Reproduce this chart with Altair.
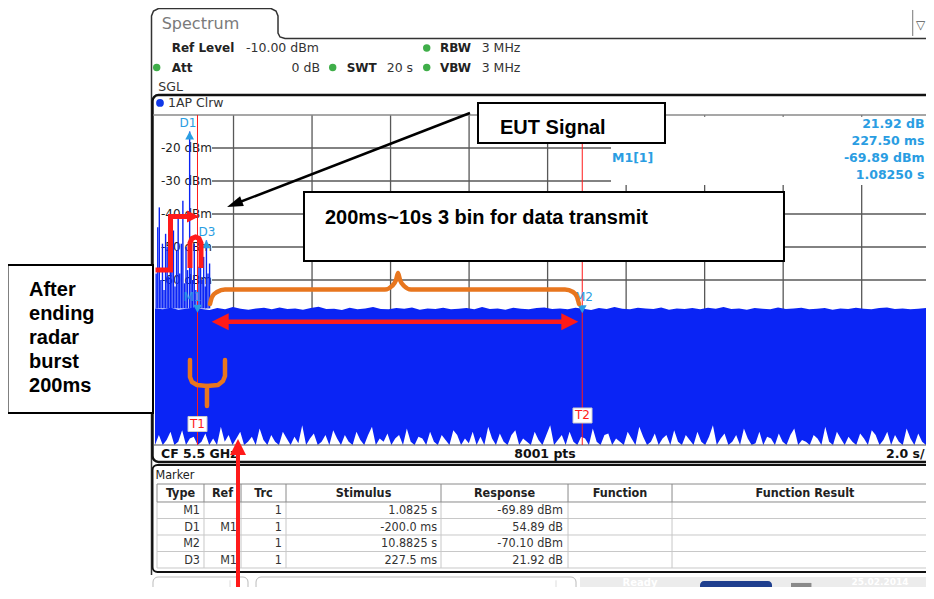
import altair as alt
import numpy as np
import pandas as pd

# ======================= values =======================
SWEEP_VISIBLE = 19.638         # s  (20 s sweep at 2.0 s/div, right edge cropped)
REF_LEVEL = -10.0              # dBm, top of grid
GRID_BOTTOM = -110.0           # dBm, bottom of grid

TIME_GRID = [2, 4, 6, 8, 10, 12, 14, 16, 18]
LEVEL_GRID = [-20, -30, -40, -50, -60, -70, -80, -90, -100]
# labels that are visible (the lower ones are hidden under the trace)
LEVEL_LABEL_LEVELS = [-20, -30, -40, -50, -60]
LEVEL_LABELS = ["-20 dBm", "-30 dBm", "-40 dBm", "-50 dBm", "-60 dBm"]

# radar-burst / EUT spikes at the start of the sweep (time s, peak dBm)
BURST_T = [0.03, 0.07, 0.11, 0.15, 0.19, 0.23, 0.27, 0.31, 0.35, 0.39,
           0.43, 0.47, 0.51, 0.55, 0.59, 0.63, 0.67, 0.71, 0.75, 0.79,
           0.83, 0.8825, 0.92, 0.96, 1.00, 1.04, 1.12, 1.16, 1.20, 1.24,
           1.28, 1.31, 1.35, 1.39]
BURST_PEAK = [-58, -44, -38, -60, -49, -63, -46, -50, -59, -48,
              -57, -45, -62, -51, -40, -58, -49, -36, -61, -50,
              -57, -15, -52, -60, -49, -63, -56, -51, -60, -53,
              -62, -48, -58, -55]

# upper edge of the dense trace (max hold), dBm, evenly over the visible sweep
NOISE_TOP = [-68.6, -68.9, -68.4, -69.0, -68.7, -68.3, -68.8, -69.1, -68.5, -68.9,
             -68.2, -68.7, -69.0, -68.6, -68.4, -68.9, -68.3, -68.8, -68.6, -69.0,
             -68.5, -68.1, -68.8, -68.7, -69.1, -68.4, -68.9, -68.6, -68.2, -68.8,
             -68.9, -68.5, -68.7, -68.3, -69.0, -68.6, -68.8, -68.4, -68.9, -68.7,
             -68.5, -68.9, -68.2, -68.8, -68.6, -69.0, -68.4, -68.7, -68.9, -68.5,
             -68.3, -68.8, -68.6, -68.9, -68.4, -68.7, -69.1, -68.5, -68.8, -68.2,
             -68.7, -68.9, -68.4, -68.6, -68.8, -68.3, -69.0, -68.6, -68.8, -68.5,
             -68.9, -68.4, -68.7, -68.2, -68.8, -68.6, -69.0, -68.5, -68.7, -68.9,
             -68.3, -68.8, -68.6, -68.4, -68.9, -68.7, -68.5, -69.0, -68.6, -68.8,
             -68.4, -68.7, -68.9, -68.5, -68.3, -68.8, -68.6, -68.9, -68.7, -68.5]

# lower edge of the trace (white "grass" at the bottom), dBm
NOISE_FLOOR = [-110, -107, -110, -108.5, -106, -110, -109, -105.5, -110, -108,
               -107.5, -110, -109, -106.5, -110, -108, -110, -104.5, -109, -107,
               -110, -108, -106, -110, -109, -107.5, -110, -105, -108.5, -110,
               -107, -109, -110, -106, -108, -110, -107.5, -109.5, -104, -110,
               -108, -106.5, -110, -109, -107, -110, -105.5, -108, -110, -107,
               -109, -110, -106, -108.5, -110, -107, -104.5, -110, -108, -109,
               -106.5, -110, -108, -107, -110, -105, -109, -110, -107.5, -108,
               -110, -106, -109, -110, -107, -108.5, -110, -105.5, -107, -110,
               -108, -109.5, -106, -110, -107.5, -110, -104.5, -108, -110, -106.5,
               -109, -110, -107, -105.5, -110, -108, -109, -110, -106, -108.5,
               -110, -107, -104, -110, -108.5, -107, -110, -106, -109, -110,
               -107.5, -108, -110, -105, -109, -110, -107, -106.5, -110, -108,
               -109, -110, -106, -108, -110, -104.5, -107.5, -110, -109, -106.5,
               -110, -108, -107, -110, -105.5, -109, -110, -107, -108.5, -110,
               -106, -109, -110, -107.5, -104, -110, -108, -106.5, -110, -109,
               -107, -110, -105, -108, -110, -109.5, -106, -110, -107.5, -108,
               -110, -106.5, -109, -110, -107, -105, -110, -108.5, -109, -110,
               -107, -108, -110, -104.5, -109, -110, -106, -108, -110, -107.5,
               -109, -110, -106.5, -108, -110, -105.5, -107, -110, -108.5, -106,
               -110, -107, -109, -110, -105, -108, -110, -106.5, -109, -110]

MARKER_NAMES = ["D1", "D3", "M1", "M2"]
MARKER_T = [0.8825, 1.31, 1.0825, 10.8825]
MARKER_LEVEL = [-15.0, -47.97, -69.89, -70.10]
LINE_NAMES = ["T1", "T2"]
LINE_T = [1.0825, 10.8825]

INFO_NAMES = ["D3[1]", "M1[1]"]
INFO_VALUES = ["21.92 dB", "227.50 ms", "-69.89 dBm", "1.08250 s"]

TABLE_HEADER = ["Type", "Ref", "Trc", "Stimulus", "Response", "Function", "Function Result"]
TABLE_TYPE = ["M1", "D1", "M2", "D3"]
TABLE_REF = ["", "M1", "", "M1"]
TABLE_TRC = ["1", "1", "1", "1"]
TABLE_STIMULUS = ["1.0825 s", "-200.0 ms", "10.8825 s", "227.5 ms"]
TABLE_RESPONSE = ["-69.89 dBm", "54.89 dB", "-70.10 dBm", "21.92 dB"]

HEADER_KEYS = ["Ref Level", "RBW", "Att", "SWT", "VBW"]
HEADER_VALUES = ["-10.00 dBm", "3 MHz", "20 s", "3 MHz"]
HEADER_RIGHT = ["0 dB"]
FOOTER = ["CF 5.5 GHz", "8001 pts", "2.0 s/"]

NOTE_EUT = "EUT Signal"
NOTE_BIN = "200ms~10s 3 bin for data transmit"
NOTE_AFTER = ["After", "ending", "radar", "burst", "200ms"]

# ======================= styling / layout (data units: s, dBm) =======================
BLUE = "#0A24F5"
MBLUE = "#2A9DE2"
RED = "#FF1A1A"
ORANGE = "#E8761E"
RS_FONT = "DejaVu Sans"
COND_FONT = "DejaVu Sans Condensed"
NOTE_FONT = "Liberation Sans"

XS = alt.Scale(domain=[0, SWEEP_VISIBLE], nice=False, zero=False)
YS = alt.Scale(domain=[GRID_BOTTOM, REF_LEVEL], nice=False, zero=False)


def X(f="t"):
    return alt.X(f, type="quantitative", scale=XS, axis=None)


def Y(f="v"):
    return alt.Y(f, type="quantitative", scale=YS, axis=None)


def rules(rows, **kw):
    df = pd.DataFrame(rows, columns=["t", "v", "t2", "v2"])
    return alt.Chart(df).mark_rule(clip=False, **kw).encode(
        x=X(), y=Y(), x2=alt.X2("t2"), y2=alt.Y2("v2"))


def rects(rows, **kw):
    df = pd.DataFrame(rows, columns=["t", "v", "t2", "v2"])
    return alt.Chart(df).mark_rect(clip=False, **kw).encode(
        x=X(), y=Y(), x2=alt.X2("t2"), y2=alt.Y2("v2"))


def texts(rows, size=12.5, weight="normal", color="#222", font=RS_FONT,
          align="left", baseline="middle"):
    df = pd.DataFrame(rows, columns=["label", "t", "v"])
    return alt.Chart(df).mark_text(font=font, fontSize=size, fontWeight=weight,
                                   color=color, align=align, baseline=baseline,
                                   clip=False).encode(x=X(), y=Y(), text=alt.Text("label:N"))


def path(points, **kw):
    df = pd.DataFrame(points, columns=["t", "v", "g"] if len(points[0]) == 3 else ["t", "v"])
    if "g" not in df:
        df["g"] = 0
    df["i"] = range(len(df))
    return alt.Chart(df).mark_line(clip=False, **kw).encode(
        x=X(), y=Y(), order="i:Q", detail="g:N")


def symbols(rows, **kw):
    df = pd.DataFrame(rows, columns=["t", "v"])
    return alt.Chart(df).mark_point(clip=False, filled=True, opacity=1, **kw).encode(x=X(), y=Y())


L = []

# ---------- instrument chrome ----------
L.append(path([(-0.089, -149.39), (-0.089, 20.0), (-0.038, 21.52), (0.089, 22.27),
               (2.955, 22.27), (3.082, 21.52), (3.133, 20.0), (3.133, 14.85),
               (3.184, 13.64), (3.311, 13.18), (20.3, 13.18)],
              color="#333", strokeWidth=1.5))
L.append(rules([(19.3, 21.82, 19.3, 13.94)], color="#777", strokeWidth=1))
L.append(texts([("\u25bd", 19.5, 17.4)], size=12, color="#555", align="center"))
L.append(texts([("Spectrum", 0.171, 17.58)], size=16, color="#7a7a7a"))
L.append(texts([(HEADER_KEYS[0], 0.425, 10.30), (HEADER_KEYS[1], 7.259, 10.30),
                (HEADER_KEYS[2], 0.425, 4.39), (HEADER_KEYS[3], 4.883, 4.39),
                (HEADER_KEYS[4], 7.259, 4.39)], size=12, weight="bold", color="#222"))
L.append(texts([(HEADER_VALUES[0], 2.318, 10.30), (HEADER_VALUES[1], 8.321, 10.30),
                (HEADER_VALUES[2], 5.902, 4.39), (HEADER_VALUES[3], 8.321, 4.39),
                ("SGL", 0.084, -1.52)], size=12.5, color="#333"))
L.append(texts([(HEADER_RIGHT[0], 4.203, 4.39)], size=12.5, color="#333", align="right"))
L.append(symbols([(6.921, 10.30), (0.043, 4.39), (4.526, 4.39), (6.921, 4.39)],
                 shape="circle", size=55, color="#3FAE49"))

# plot frame and marker-table frame
L.append(rects([(-0.064, -3.94, 20.3, -115.15)], fill="white", fillOpacity=0,
               stroke="#111", strokeWidth=2.5, cornerRadius=6))
L.append(rects([(-0.064, -116.06, 20.3, -148.48)], fill="white", fillOpacity=0,
               stroke="#111", strokeWidth=2, cornerRadius=5))
L.append(symbols([(0.127, -6.36)], shape="circle", size=60, color="#1038E8"))
L.append(texts([("1AP Clrw", 0.331, -6.36)], size=12.5, color="#333"))

# ---------- grid ----------
L.append(rules([(t, REF_LEVEL, t, GRID_BOTTOM) for t in TIME_GRID], color="#585858", strokeWidth=1.3))
L.append(rules([(1.452, lv, 20.3, lv) for lv in LEVEL_GRID], color="#585858", strokeWidth=1.3))
L.append(texts([(lab, 0.153, lv) for lab, lv in zip(LEVEL_LABELS, LEVEL_LABEL_LEVELS)],
               size=12, color="#222"))
L.append(rules([(-0.05, REF_LEVEL, 20.3, REF_LEVEL)], color="#8a8a8a", strokeWidth=1.5))

# marker info field (top right)
L.append(rects([(11.615, -10.5, 20.3, -31.21)], fill="white", stroke="white", strokeWidth=0))
L.append(texts([(INFO_NAMES[0], 11.64, -12.73), (INFO_NAMES[1], 11.64, -23.03)],
               size=12.5, weight="bold", color=MBLUE))
L.append(texts([(s, 19.6, v) for s, v in zip(INFO_VALUES, [-12.73, -18.03, -23.03, -28.18])],
               size=12.5, weight="bold", color=MBLUE, align="right"))

# ---------- trace ----------
band = pd.DataFrame({"t": np.linspace(0, SWEEP_VISIBLE, len(NOISE_TOP)), "v": NOISE_TOP,
                     "v2": GRID_BOTTOM})
L.append(alt.Chart(band).mark_area(color=BLUE, opacity=1).encode(x=X(), y=Y(), y2=alt.Y2("v2")))
grass = pd.DataFrame({"t": np.linspace(0, SWEEP_VISIBLE, len(NOISE_FLOOR)), "v": GRID_BOTTOM,
                      "v2": NOISE_FLOOR})
L.append(alt.Chart(grass).mark_area(color="white", opacity=1).encode(x=X(), y=Y(), y2=alt.Y2("v2")))
L.append(rules([(t, -68.6, t, p) for t, p in zip(BURST_T, BURST_PEAK)], color=BLUE, strokeWidth=1.4))
L.append(rules([(-0.05, GRID_BOTTOM, 20.3, GRID_BOTTOM)], color="#555", strokeWidth=1))

# display lines T1 / T2 and markers
L.append(rules([(t, REF_LEVEL, t, GRID_BOTTOM) for t in LINE_T], color=RED, strokeWidth=1))
L.append(rects([(0.841, -101.36, 1.325, -105.91), (10.647, -98.79, 11.131, -103.33)],
               fill="white", stroke="#cccccc", strokeWidth=1))
L.append(texts([(LINE_NAMES[0], 1.083, -103.64), (LINE_NAMES[1], 10.889, -101.06)],
               size=12, color=RED, align="center"))
L.append(symbols([(MARKER_T[0], MARKER_LEVEL[0]), (MARKER_T[1], MARKER_LEVEL[1])],
                 shape="M0,0L0.55,1L-0.55,1Z", size=256, color=MBLUE))
L.append(symbols([(MARKER_T[2], MARKER_LEVEL[2]), (MARKER_T[3], MARKER_LEVEL[3])],
                 shape="M0,0L0.55,-1L-0.55,-1Z", size=256, color=MBLUE))
L.append(texts([(MARKER_NAMES[0], 0.841, -12.42), (MARKER_NAMES[1], 1.324, -45.45),
                (MARKER_NAMES[2], 0.955, -65.06), (MARKER_NAMES[3], 10.927, -65.24)],
               size=12, color=MBLUE, align="center"))

# footer of the diagram
L.append(texts([(FOOTER[0], 0.153, -112.58)], weight="bold", color="#111"))
L.append(texts([(FOOTER[1], 9.934, -112.58)], weight="bold", color="#111", align="center"))
L.append(texts([(FOOTER[2], 19.6, -112.58)], weight="bold", color="#111", align="right"))

# ---------- marker table ----------
COL_EDGES = [0.051, 1.248, 2.191, 3.337, 7.285, 10.520, 13.169]
COL_CENTERS = [0.650, 1.719, 2.764, 5.311, 8.902, 11.844, 16.556]
ROW_V = [-129.77, -134.77, -139.77, -144.77]
L.append(texts([("Marker", 0.013, -118.94)], font=COND_FONT, size=12.5, color="#222"))
L.append(rules([(0.051, v, 20.3, v) for v in [-132.27, -137.27, -142.27, -147.27]],
               color="#c8c8c8", strokeWidth=1))
L.append(rules([(t, -127.27, t, -147.27) for t in COL_EDGES], color="#c8c8c8", strokeWidth=1))
L.append(rules([(0.051, v, 20.3, v) for v in [-121.82, -127.27]], color="#8a8a8a", strokeWidth=1))
L.append(rules([(t, -121.82, t, -127.27) for t in COL_EDGES], color="#8a8a8a", strokeWidth=1))
L.append(texts([(h, c, -124.55) for h, c in zip(TABLE_HEADER, COL_CENTERS)],
               font=COND_FONT, size=12.5, weight="bold", color="#222", align="center"))
cells = []
for col, pos in [(TABLE_TYPE, 1.146), (TABLE_REF, 2.089), (TABLE_TRC, 3.235),
                 (TABLE_STIMULUS, 7.183), (TABLE_RESPONSE, 10.392)]:
    cells += [(s, pos, v) for s, v in zip(col, ROW_V) if s]
L.append(texts(cells, font=COND_FONT, size=12.5, color="#333", align="right"))

# status bar
L.append(rects([(-0.051, -150.0, 2.369, -158.0), (2.573, -150.0, 10.724, -158.0)],
               fill="white", stroke="#bbbbbb", strokeWidth=1, cornerRadius=5))
L.append(rules([(1.910, -151.0, 1.910, -157.0), (10.214, -151.0, 10.214, -157.0)],
               color="#dddddd", strokeWidth=1))
L.append(rects([(10.825, -150.0, 20.3, -158.0)], fill="#ececec"))
L.append(texts([("Ready", 12.354, -151.7)], size=10, weight="bold", color="white", align="center"))
L.append(rects([(13.882, -151.21, 15.716, -155.76)], fill="#1F3F8F", cornerRadius=4))
L.append(rects([(16.2, -151.8, 16.72, -155.2)], fill="#8a8a8a"))
L.append(texts([("25.02.2014", 18.466, -151.52)], size=9, weight="bold", color="white", align="center"))

# ---------- hand-drawn annotations ----------
L.append(rects([(8.227, -6.36, 12.990, -18.48)], fill="white", stroke="black", strokeWidth=2))
L.append(texts([(NOTE_EUT, 8.788, -13.94)], font=NOTE_FONT, size=20, weight="bold", color="black"))
L.append(rules([(8.023, -9.39, 2.063, -36.82)], color="black", strokeWidth=2.5))
L.append(symbols([(2.025, -37.0)], shape="M-1,0L1,-0.65L1,0.65Z", size=256, angle=338.8, color="black"))

L.append(rects([(3.795, -33.33, 16.021, -54.24)], fill="white", stroke="black", strokeWidth=2))
L.append(texts([(NOTE_BIN, 4.330, -41.12)], font=NOTE_FONT, size=20, weight="bold", color="black"))

L.append(rects([(-3.757, -55.45, -0.051, -100.30)], fill="white", stroke="black", strokeWidth=2))
L.append(texts([(s, -3.209, v) for s, v in zip(NOTE_AFTER, [-63.0, -70.2, -77.5, -84.8, -92.1])],
               font=NOTE_FONT, size=20, weight="bold", color="black"))

# red bracket with arrow + inverted U around the burst
L.append(path([(0.013, -56.97), (0.395, -56.97), (0.395, -40.76), (0.942, -40.76)],
              color=RED, strokeWidth=5))
L.append(symbols([(0.968, -40.76)], shape="M1,0L-1,-1L-1,1Z", size=144, color=RED))
L.append(path([(0.891, -56.36), (0.891, -48.79), (0.942, -47.42), (1.032, -46.97),
               (1.121, -47.42), (1.172, -48.79), (1.172, -56.36)],
              color=RED, strokeWidth=5))

# orange brace over the data-transmit window
L.append(path([(1.401, -67.27), (1.452, -65.15), (1.579, -63.64), (1.783, -62.88),
               (5.858, -62.88), (6.037, -61.82), (6.139, -60.0), (6.190, -57.88),
               (6.241, -60.0), (6.343, -61.82), (6.521, -62.88), (10.443, -62.88),
               (10.647, -63.64), (10.749, -65.15), (10.800, -67.27)],
              color=ORANGE, strokeWidth=4.5, interpolate="monotone", strokeCap="round"))

# red double arrow
L.append(rules([(1.783, -72.64, 10.443, -72.64)], color=RED, strokeWidth=4.5))
L.append(symbols([(1.661, -72.64)], shape="M-1,0L1,-1L1,1Z", size=289, color=RED))
L.append(symbols([(10.565, -72.64)], shape="M1,0L-1,-1L-1,1Z", size=289, color=RED))

# small orange brace below T1
L.append(path([(0.891, -84.24, 0), (0.891, -89.39, 0), (0.942, -90.91, 0), (1.070, -91.82, 0),
               (1.324, -92.12, 0), (1.324, -98.18, 0),
               (1.783, -84.24, 1), (1.783, -89.09, 1), (1.732, -90.61, 1), (1.605, -91.82, 1),
               (1.324, -92.12, 1)],
              color=ORANGE, strokeWidth=4.5, strokeCap="round", strokeJoin="round"))

# red vertical arrow from below
L.append(rules([(2.114, -158.5, 2.114, -111.5)], color=RED, strokeWidth=4))
L.append(symbols([(2.114, -110.61)], shape="M0,-1L1,1L-1,1Z", size=256, color=RED))

chart = alt.layer(*L).properties(
    width=771, height=330,
    padding={"left": 147, "top": 107, "right": 0, "bottom": 142},
    autosize=alt.AutoSizeParams(type="none"),
    background="white",
).configure_view(stroke=None)

chart.save("out.html", embed_options={"renderer": "svg", "actions": False})
